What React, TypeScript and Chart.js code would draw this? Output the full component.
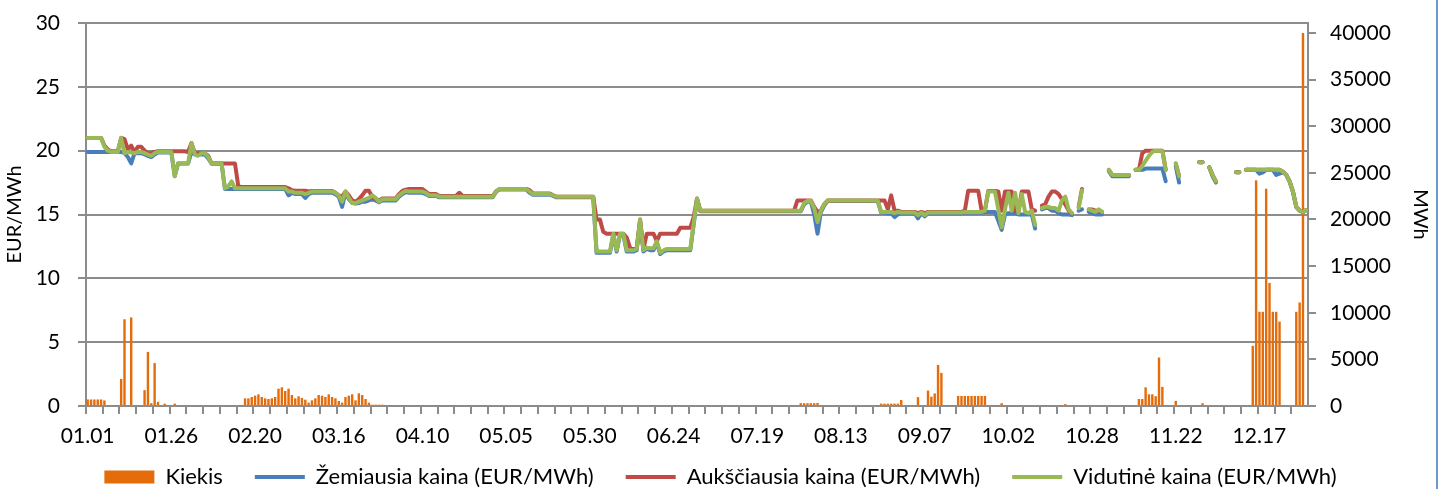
import React, { useEffect, useRef } from 'react';
import { Chart, registerables } from 'chart.js';

Chart.register(...registerables);

const n = null;
const FONT = 'Lato';
const GRID = '#8c8c8c';
const ORANGE = '#E46C0A';
const BLUE = '#4A7EBB';
const RED = '#BE4B48';
const GREEN = '#98B954';

// Categories: daily dates (one date missing in October in the source data)
const MONTH_DAYS = [31, 29, 31, 30, 31, 30, 31, 31, 30, 31, 30, 31];
const SKIPPED_DATE = '10.27';
const pad2 = (v: number) => (v < 10 ? '0' : '') + v;
const CATEGORIES: string[] = [];
MONTH_DAYS.forEach((days, m) => {
  for (let d = 1; d <= days; d++) {
    const s = pad2(m + 1) + '.' + pad2(d);
    if (s !== SKIPPED_DATE) CATEGORIES.push(s);
  }
});

const TICK_LABELS = ['01.01', '01.26', '02.20', '03.16', '04.10', '05.05', '05.30', '06.24', '07.19', '08.13', '09.07', '10.02', '10.28', '11.22', '12.17'];
const LABEL_EVERY = 25;
const TICK_EVERY = 5;
const LEFT_TICKS = [0, 5, 10, 15, 20, 25, 30];
const RIGHT_TICKS = [0, 5000, 10000, 15000, 20000, 25000, 30000, 35000, 40000];

const SERIES_NAMES = ['Kiekis', 'Žemiausia kaina (EUR/MWh)', 'Aukščiausia kaina (EUR/MWh)', 'Vidutinė kaina (EUR/MWh)'];

const KIEKIS = [
  /*0*/ 700, 700, 700, 700, 700, 600, 50, 50, 50, 50,
  /*10*/ 2900, 9300, 100, 9500, 0, 0, 0, 1700, 5800, 300,
  /*20*/ 4600, 450, 0, 250, 0, 0, 250, 0, 0, 0,
  /*30*/ 0, 0, 0, 0, 0, 0, 0, 0, 0, 0,
  /*40*/ 0, 0, 100, 0, 0, 0, 0, 820, 820, 965,
  /*50*/ 1110, 1250, 965, 820, 750, 820, 965, 1860, 2000, 1610,
  /*60*/ 1860, 1180, 820, 1040, 860, 680, 360, 610, 820, 1180,
  /*70*/ 1110, 965, 1250, 965, 820, 540, 360, 965, 1110, 1250,
  /*80*/ 610, 1360, 1180, 750, 360, 140, 140, 140, 140, 50,
  /*90*/ 50, 50, 50, 50, 50, 50, 50, 50, 50, 50,
  /*100*/ 50, 50, 0, 50, 50, 50, 0, 50, 50, 50,
  /*110*/ 50, 50, 50, 0, 50, 50, 50, 50, 50, 50,
  /*120*/ 0, 0, 0, 0, 0, 0, 0, 0, 0, 0,
  /*130*/ 0, 0, 0, 0, 0, 0, 0, 0, 0, 0,
  /*140*/ 0, 0, 0, 0, 0, 0, 0, 0, 0, 0,
  /*150*/ 0, 0, 50, 0, 50, 50, 0, 50, 0, 50,
  /*160*/ 50, 0, 50, 0, 50, 100, 0, 50, 50, 50,
  /*170*/ 50, 50, 100, 100, 50, 50, 50, 50, 0, 0,
  /*180*/ 0, 0, 0, 0, 0, 0, 0, 0, 0, 0,
  /*190*/ 0, 0, 0, 0, 0, 0, 0, 0, 0, 0,
  /*200*/ 0, 0, 0, 0, 0, 0, 0, 0, 0, 0,
  /*210*/ 0, 0, 0, 300, 300, 300, 300, 300, 320, 0,
  /*220*/ 0, 0, 0, 0, 0, 0, 0, 0, 0, 0,
  /*230*/ 0, 0, 0, 0, 0, 0, 0, 250, 250, 250,
  /*240*/ 250, 250, 250, 650, 0, 0, 0, 0, 950, 50,
  /*250*/ 50, 1650, 1000, 1350, 4400, 3550, 30, 30, 30, 0,
  /*260*/ 1080, 1080, 1080, 1080, 1080, 1080, 1080, 1080, 1080, 30,
  /*270*/ 30, 30, 30, 300, 30, 0, 0, 0, 0, 0,
  /*280*/ 0, 0, 0, 0, 0, 30, 30, 0, 0, 0,
  /*290*/ 0, 0, 200, 0, 0, 0, 0, 0, 0, 0,
  /*300*/ 0, 0, 0, 0, 0, 0, 0, 0, 0, 0,
  /*310*/ 30, 30, 0, 0, 750, 750, 2000, 1250, 1250, 1050,
  /*320*/ 5200, 2050, 0, 0, 0, 550, 0, 0, 0, 0,
  /*330*/ 0, 0, 0, 300, 0, 0, 0, 0, 0, 0,
  /*340*/ 0, 0, 0, 30, 30, 0, 0, 0, 6450, 24200,
  /*350*/ 10100, 10100, 23300, 13200, 10100, 10100, 9050, 0, 0, 0,
  /*360*/ 0, 10100, 11100, 40000, 0,
];

const ZEMIAUSIA = [
  /*0*/ 19.9, 19.9, 19.9, 19.9, 19.9, 19.9, 19.9, 19.9, 19.9, 19.9,
  /*10*/ 19.9, 19.8, 19.5, 19, 19.8, 19.8, 19.8, 19.7, 19.6, 19.5,
  /*20*/ 19.7, 19.85, 19.85, 19.85, 19.85, 19.85, 18, 19, 19, 19,
  /*30*/ 19, 19.9, 19.7, 19.7, 19.7, 19.7, 19.4, 19, 19, 19,
  /*40*/ 19, 17, 17, 17, 17, 17, 17, 17, 17, 17,
  /*50*/ 17, 17, 17, 17, 17, 17, 17, 17, 17, 17,
  /*60*/ 16.5, 16.7, 16.6, 16.6, 16.6, 16.3, 16.6, 16.7, 16.7, 16.7,
  /*70*/ 16.7, 16.7, 16.7, 16.7, 16.6, 16.4, 15.6, 16.7, 16.2, 15.9,
  /*80*/ 15.85, 15.9, 16, 16, 16.1, 16.2, 16.1, 15.95, 16.1, 16.1,
  /*90*/ 16.1, 16.1, 16.1, 16.4, 16.6, 16.75, 16.7, 16.7, 16.7, 16.7,
  /*100*/ 16.7, 16.6, 16.45, 16.45, 16.45, 16.35, 16.35, 16.35, 16.35, 16.35,
  /*110*/ 16.35, 16.35, 16.35, 16.35, 16.35, 16.35, 16.35, 16.35, 16.35, 16.35,
  /*120*/ 16.35, 16.35, 16.8, 16.95, 16.95, 16.95, 16.95, 16.95, 16.95, 16.95,
  /*130*/ 16.95, 16.95, 16.7, 16.55, 16.55, 16.55, 16.55, 16.55, 16.55, 16.45,
  /*140*/ 16.35, 16.35, 16.35, 16.35, 16.35, 16.35, 16.35, 16.35, 16.35, 16.35,
  /*150*/ 16.35, 16.35, 12, 12, 12, 12, 12, 13.4, 12.1, 13.4,
  /*160*/ 13.4, 12.1, 12.1, 12.1, 12.2, 14.5, 12.1, 12.3, 12.2, 12.2,
  /*170*/ 12.8, 11.9, 12.1, 12.2, 12.2, 12.2, 12.2, 12.2, 12.2, 12.2,
  /*180*/ 12.2, 14.2, 16.2, 15.25, 15.25, 15.25, 15.25, 15.25, 15.25, 15.25,
  /*190*/ 15.25, 15.25, 15.25, 15.25, 15.25, 15.25, 15.25, 15.25, 15.25, 15.25,
  /*200*/ 15.25, 15.25, 15.25, 15.25, 15.25, 15.25, 15.25, 15.25, 15.25, 15.25,
  /*210*/ 15.25, 15.25, 15.25, 15.25, 15.8, 16, 16, 15, 13.5, 15.2,
  /*220*/ 15.7, 16.05, 16.05, 16.05, 16.05, 16.05, 16.05, 16.05, 16.05, 16.05,
  /*230*/ 16.05, 16.05, 16.05, 16.05, 16.05, 16.05, 16.05, 15.15, 15.15, 15.1,
  /*240*/ 15.1, 14.8, 15, 15.1, 15.1, 15.1, 15.1, 15.1, 14.7, 15.1,
  /*250*/ 14.85, 15.1, 15.1, 15.1, 15.1, 15.1, 15.1, 15.1, 15.1, 15.1,
  /*260*/ 15.1, 15.1, 15.15, 15.15, 15.15, 15.15, 15.15, 15.15, 15.2, 15.2,
  /*270*/ 15.2, 15.2, 14.5, 13.8, 15, 15.1, 15.1, 15.1, 15, 15,
  /*280*/ 15, 15, 15, 13.9, n, 15.4, 15.5, 15.5, 15.3, 15.3,
  /*290*/ 15.1, 15, 15, 15, 14.95, n, 15.3, 15.4, n, 15.2,
  /*300*/ 15.1, 15, 15, 15, n, 18.4, 18, 18, 18, 18,
  /*310*/ 18, 18, n, 18.5, 18.5, 18.5, 18.6, 18.6, 18.6, 18.6,
  /*320*/ 18.6, 18.6, 17.6, n, n, 18.8, 17.5, n, n, n,
  /*330*/ n, n, 19.1, 19.1, n, 18.7, 18, 17.5, n, n,
  /*340*/ n, n, n, 18.3, 18.3, n, 18.5, 18.5, 18.5, 18.5,
  /*350*/ 18.2, 18.3, 18.5, 18.5, 18.5, 18.1, 18.2, 18.35, 18.1, 17.6,
  /*360*/ 16.8, 15.6, 15.3, 15.2, 15.35,
];

const AUKSCIAUSIA = [
  /*0*/ 21, 21, 21, 21, 21, 20.4, 20.1, 19.95, 19.95, 19.95,
  /*10*/ 21, 20.9, 20.1, 20.4, 19.9, 20.3, 20.3, 20, 19.8, 19.8,
  /*20*/ 19.9, 19.95, 19.95, 19.95, 19.95, 19.95, 19.95, 19.95, 19.95, 19.95,
  /*30*/ 19.9, 20.6, 19.8, 19.8, 19.8, 19.8, 19.6, 19, 19, 19,
  /*40*/ 19, 19, 19, 19, 19, 17.2, 17.15, 17.15, 17.15, 17.15,
  /*50*/ 17.15, 17.15, 17.15, 17.15, 17.15, 17.15, 17.15, 17.15, 17.15, 17.15,
  /*60*/ 17.05, 16.9, 16.86, 16.86, 16.86, 16.86, 16.8, 16.85, 16.85, 16.85,
  /*70*/ 16.85, 16.85, 16.85, 16.85, 16.7, 16.5, 16.4, 16.8, 16.5, 16.1,
  /*80*/ 16, 16.2, 16.5, 16.86, 16.86, 16.4, 16.2, 16.1, 16.25, 16.25,
  /*90*/ 16.25, 16.25, 16.25, 16.6, 16.85, 16.95, 17, 17, 17, 17,
  /*100*/ 17, 16.8, 16.6, 16.6, 16.6, 16.45, 16.45, 16.45, 16.45, 16.45,
  /*110*/ 16.45, 16.7, 16.45, 16.45, 16.45, 16.45, 16.45, 16.45, 16.45, 16.45,
  /*120*/ 16.45, 16.45, 16.8, 17, 17, 17, 17, 17, 17, 17,
  /*130*/ 17, 17, 16.9, 16.65, 16.65, 16.65, 16.65, 16.65, 16.65, 16.5,
  /*140*/ 16.4, 16.4, 16.4, 16.4, 16.4, 16.4, 16.4, 16.4, 16.4, 16.4,
  /*150*/ 16.4, 16.4, 14.6, 14.6, 13.65, 13.5, 13.5, 13.5, 13.5, 13.5,
  /*160*/ 13.5, 13.2, 12.4, 12.3, 12.4, 14.6, 12.3, 13.5, 13.5, 13.5,
  /*170*/ 12.9, 13.5, 13.5, 13.5, 13.5, 13.5, 13.5, 13.96, 13.96, 13.96,
  /*180*/ 13.96, 14.8, 16.25, 15.3, 15.3, 15.3, 15.3, 15.3, 15.3, 15.3,
  /*190*/ 15.3, 15.3, 15.3, 15.3, 15.3, 15.3, 15.3, 15.3, 15.3, 15.3,
  /*200*/ 15.3, 15.3, 15.3, 15.3, 15.3, 15.3, 15.3, 15.3, 15.3, 15.3,
  /*210*/ 15.3, 15.3, 16.1, 16.1, 16.1, 16.1, 16.1, 15.6, 15.2, 15.3,
  /*220*/ 15.8, 16.1, 16.1, 16.1, 16.1, 16.1, 16.1, 16.1, 16.1, 16.1,
  /*230*/ 16.1, 16.1, 16.1, 16.1, 16.1, 16.1, 16.1, 16.1, 16.1, 15.4,
  /*240*/ 16.5, 15.3, 15.3, 15.2, 15.2, 15.2, 15.2, 15.2, 15.1, 15.2,
  /*250*/ 15.1, 15.2, 15.2, 15.2, 15.2, 15.2, 15.2, 15.2, 15.2, 15.2,
  /*260*/ 15.2, 15.2, 15.3, 16.86, 16.86, 16.86, 16.86, 15.3, 15.3, 16.85,
  /*270*/ 16.85, 16.85, 16.8, 15.3, 16.8, 16.8, 16.8, 15.3, 15.2, 16.8,
  /*280*/ 16.8, 16.8, 15.4, 15.3, n, 15.7, 15.8, 16.4, 16.8, 16.8,
  /*290*/ 16.6, 16.2, 15.8, 15.3, 15.1, n, 15.6, 17, n, 15.4,
  /*300*/ 15.4, 15.3, 15.3, 15.2, n, 18.5, 18.1, 18.1, 18.1, 18.1,
  /*310*/ 18.1, 18.1, n, 18.5, 18.5, 19.8, 20, 20, 20, 20,
  /*320*/ 20, 20, 18.5, n, n, 19, 18, n, n, n,
  /*330*/ n, n, 19.1, 19.1, n, 18.7, 18.1, 17.6, n, n,
  /*340*/ n, n, n, 18.3, 18.3, n, 18.5, 18.5, 18.5, 18.5,
  /*350*/ 18.5, 18.5, 18.5, 18.5, 18.5, 18.5, 18.5, 18.35, 18.1, 17.6,
  /*360*/ 16.8, 15.6, 15.3, 15.2, 15.35,
];

const VIDUTINE = [
  /*0*/ 21, 21, 21, 21, 21, 20.3, 20, 19.9, 19.9, 19.9,
  /*10*/ 21, 19.8, 19.9, 19.85, 19.8, 19.9, 19.9, 19.8, 19.7, 19.6,
  /*20*/ 19.8, 19.9, 19.9, 19.9, 19.9, 19.9, 18, 19, 19, 19,
  /*30*/ 19, 20.6, 19.7, 19.6, 19.8, 19.8, 19.5, 19, 19, 19,
  /*40*/ 19, 17.05, 17.2, 17.6, 17.05, 17.05, 17.05, 17.05, 17.05, 17.05,
  /*50*/ 17.05, 17.05, 17.05, 17.05, 17.05, 17.05, 17.05, 17.05, 17.05, 17.05,
  /*60*/ 16.8, 16.8, 16.7, 16.7, 16.7, 16.6, 16.7, 16.8, 16.8, 16.8,
  /*70*/ 16.8, 16.8, 16.8, 16.8, 16.7, 16.5, 16, 16.8, 16.3, 15.9,
  /*80*/ 15.9, 16, 16.1, 16.2, 16.3, 16.5, 16.3, 16, 16.2, 16.2,
  /*90*/ 16.2, 16.2, 16.2, 16.5, 16.7, 16.85, 16.8, 16.8, 16.8, 16.8,
  /*100*/ 16.8, 16.7, 16.5, 16.5, 16.5, 16.4, 16.4, 16.4, 16.4, 16.4,
  /*110*/ 16.4, 16.4, 16.4, 16.4, 16.4, 16.4, 16.4, 16.4, 16.4, 16.4,
  /*120*/ 16.4, 16.4, 16.8, 17, 17, 17, 17, 17, 17, 17,
  /*130*/ 17, 17, 16.8, 16.6, 16.6, 16.6, 16.6, 16.6, 16.6, 16.5,
  /*140*/ 16.4, 16.4, 16.4, 16.4, 16.4, 16.4, 16.4, 16.4, 16.4, 16.4,
  /*150*/ 16.4, 16.4, 12.1, 12.1, 12.1, 12.1, 12.1, 13.5, 12.2, 13.5,
  /*160*/ 13.5, 12.2, 12.2, 12.2, 12.3, 14.6, 12.2, 12.4, 12.35, 12.35,
  /*170*/ 12.9, 12, 12.2, 12.3, 12.3, 12.3, 12.3, 12.3, 12.3, 12.3,
  /*180*/ 12.3, 14.3, 16.25, 15.3, 15.3, 15.3, 15.3, 15.3, 15.3, 15.3,
  /*190*/ 15.3, 15.3, 15.3, 15.3, 15.3, 15.3, 15.3, 15.3, 15.3, 15.3,
  /*200*/ 15.3, 15.3, 15.3, 15.3, 15.3, 15.3, 15.3, 15.3, 15.3, 15.3,
  /*210*/ 15.3, 15.3, 15.3, 15.3, 15.9, 16.05, 16.05, 15.5, 14.4, 15.3,
  /*220*/ 15.8, 16.1, 16.1, 16.1, 16.1, 16.1, 16.1, 16.1, 16.1, 16.1,
  /*230*/ 16.1, 16.1, 16.1, 16.1, 16.1, 16.1, 16.1, 15.2, 15.2, 15.2,
  /*240*/ 15.2, 15.1, 15.2, 15.15, 15.15, 15.15, 15.15, 15.15, 14.95, 15.15,
  /*250*/ 14.95, 15.15, 15.15, 15.15, 15.15, 15.15, 15.15, 15.15, 15.15, 15.15,
  /*260*/ 15.15, 15.15, 15.2, 15.2, 15.2, 15.2, 15.2, 15.2, 15.3, 16.8,
  /*270*/ 16.8, 16.8, 15.4, 14, 15.4, 16.7, 15.3, 16.7, 15.1, 16.6,
  /*280*/ 15.2, 15.1, 15.3, 14.2, n, 15.5, 15.6, 15.6, 15.5, 15.5,
  /*290*/ 15.3, 16.1, 16.4, 15.4, 15.1, n, 15.5, 16.9, n, 15.4,
  /*300*/ 15.3, 15.2, 15.4, 15.2, n, 18.5, 18.1, 18.1, 18.1, 18.1,
  /*310*/ 18.1, 18.1, n, 18.5, 18.5, 18.8, 19.2, 19.6, 19.9, 20,
  /*320*/ 20, 20, 18.5, n, n, 19, 18, n, n, n,
  /*330*/ n, n, 19.1, 19.1, n, 18.7, 18.1, 17.6, n, n,
  /*340*/ n, n, n, 18.3, 18.3, n, 18.5, 18.5, 18.5, 18.5,
  /*350*/ 18.5, 18.5, 18.5, 18.5, 18.5, 18.5, 18.5, 18.35, 18.1, 17.6,
  /*360*/ 16.8, 15.6, 15.3, 15.2, 15.35,
];

// The legend block is limited in height; its top is then raised so its row sits at the reference position.
const LEGEND_PADDING = 32;
const LEGEND_MAX_HEIGHT = 39;
const LEGEND_RAISE = 16;
const legendShift = {
  id: 'legendShift',
  afterLayout(chart: any) {
    const l = chart.legend;
    if (l) {
      l.top -= LEGEND_RAISE;
    }
  },
};

export default function App() {
  const ref = useRef<HTMLCanvasElement>(null);

  useEffect(() => {
    const canvas = ref.current;
    if (!canvas) return;
    Chart.defaults.font.family = FONT;
    Chart.defaults.color = '#000';

    const lineDs = (label: string, data: (number | null)[], color: string, order: number) => ({
      type: 'line' as const,
      label,
      data,
      yAxisID: 'y',
      borderColor: color,
      backgroundColor: color,
      borderWidth: 4,
      pointRadius: 0,
      pointHoverRadius: 0,
      tension: 0,
      spanGaps: false,
      fill: false,
      borderJoinStyle: 'round' as const,
      borderCapStyle: 'round' as const,
      order,
    });

    const chart = new Chart(canvas, {
      type: 'bar',
      data: {
        labels: CATEGORIES,
        datasets: [
          {
            type: 'bar',
            label: SERIES_NAMES[0],
            data: KIEKIS,
            yAxisID: 'y1',
            backgroundColor: ORANGE,
            borderWidth: 0,
            barPercentage: 0.72,
            categoryPercentage: 1,
            order: 4,
          } as any,
          lineDs(SERIES_NAMES[1], ZEMIAUSIA, BLUE, 3),
          lineDs(SERIES_NAMES[2], AUKSCIAUSIA, RED, 2),
          lineDs(SERIES_NAMES[3], VIDUTINE, GREEN, 1),
        ],
      },
      options: {
        animation: false,
        responsive: true,
        maintainAspectRatio: false,
        layout: { padding: { top: 23, left: 0, right: 0, bottom: 0 } },
        plugins: {
          tooltip: { enabled: false },
          legend: {
            position: 'bottom',
            maxHeight: LEGEND_MAX_HEIGHT,
            labels: {
              usePointStyle: true,
              pointStyleWidth: 50,
              boxHeight: 13,
              padding: LEGEND_PADDING,
              color: '#000',
              font: { size: 22, family: FONT },
              generateLabels: (c: any) =>
                c.data.datasets.map((ds: any, i: number) => ({
                  text: ds.label,
                  datasetIndex: i,
                  fillStyle: i === 0 ? ORANGE : ds.borderColor,
                  strokeStyle: i === 0 ? ORANGE : ds.borderColor,
                  lineWidth: i === 0 ? 0 : 4,
                  lineCap: 'butt',
                  pointStyle: i === 0 ? 'rect' : 'line',
                  hidden: false,
                  fontColor: '#000',
                })),
            },
          },
        },
        scales: {
          x: {
            type: 'category',
            offset: true,
            grid: {
              offset: true,
              drawOnChartArea: false,
              drawTicks: true,
              tickLength: 8,
              lineWidth: 2,
              color: (c: any) => (typeof c.index === 'number' && c.index % TICK_EVERY === 0 ? GRID : 'rgba(0,0,0,0)'),
            },
            border: { display: true, color: GRID, width: 2 },
            ticks: {
              autoSkip: false,
              maxRotation: 0,
              minRotation: 0,
              padding: 10,
              color: '#000',
              font: { size: 21, family: FONT },
              callback: (_v: any, i: number) => (i % LABEL_EVERY === 0 ? TICK_LABELS[i / LABEL_EVERY] ?? '' : ''),
            },
            afterFit: (s: any) => {
              s.height = 44;
              s.paddingLeft = 0;
              s.paddingRight = 0;
            },
          },
          y: {
            type: 'linear',
            position: 'left',
            min: 0,
            max: 30,
            afterBuildTicks: (s: any) => {
              s.ticks = LEFT_TICKS.map((value) => ({ value }));
            },
            ticks: {
              autoSkip: false,
              padding: 18,
              color: '#000',
              font: { size: 21, family: FONT },
              callback: (v: any) => String(v),
            },
            grid: { color: GRID, lineWidth: 2, tickLength: 8, drawTicks: true },
            border: { display: true, color: GRID, width: 2 },
            title: {
              display: true,
              text: 'EUR/MWh',
              color: '#000',
              font: { size: 20, family: FONT },
              padding: { top: 3, bottom: 0 },
            },
            afterFit: (s: any) => {
              s.width = 86;
              s.paddingTop = 0;
              s.paddingBottom = 0;
            },
          },
          y1: {
            type: 'linear',
            position: 'right',
            min: 0,
            max: 41070,
            afterBuildTicks: (s: any) => {
              s.ticks = RIGHT_TICKS.map((value) => ({ value }));
            },
            ticks: {
              autoSkip: false,
              padding: 14,
              color: '#000',
              font: { size: 21, family: FONT },
              callback: (v: any) => String(v),
            },
            grid: { drawOnChartArea: false, color: GRID, lineWidth: 2, tickLength: 8, drawTicks: true },
            border: { display: true, color: GRID, width: 2 },
            title: {
              display: true,
              text: 'MWh',
              color: '#000',
              font: { size: 20, family: FONT },
              padding: { top: 9, bottom: 0 },
            },
            afterFit: (s: any) => {
              s.width = 133;
              s.paddingTop = 0;
              s.paddingBottom = 0;
            },
          },
        },
      } as any,
      plugins: [legendShift],
    });

    return () => chart.destroy();
  }, []);

  return (
    <div style={{ position: 'fixed', left: 0, top: 0, width: 1441, height: 489, background: '#fff' }}>
      <canvas ref={ref} />
      <div style={{ position: 'absolute', left: 1436, top: 0, width: 2, height: 489, background: '#6C9BD2' }} />
    </div>
  );
}
